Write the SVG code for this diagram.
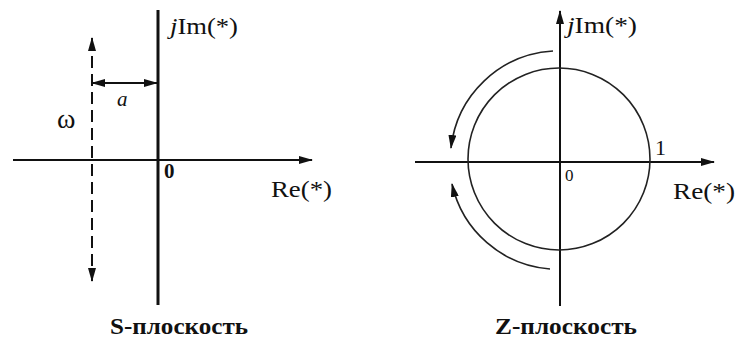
<svg xmlns="http://www.w3.org/2000/svg" width="735" height="339" viewBox="0 0 735 339">
<style>
.ax{stroke:#111;fill:none;stroke-width:2}
.th{stroke-width:3}
.dash{stroke:#111;fill:none;stroke-width:2;stroke-dasharray:12 6}
.arc{stroke:#222;fill:none;stroke-width:1.6}
.t{font-family:"Liberation Serif",serif;fill:#111}
.lbl{font-family:"Liberation Serif",serif;fill:#111;font-weight:bold;font-size:23px}
</style>
<defs>
<marker id="ah" viewBox="0 0 14 8" refX="13" refY="4" markerWidth="14" markerHeight="8" markerUnits="userSpaceOnUse" orient="auto-start-reverse">
<path d="M0,0 L14,4 L0,8 Z" fill="#111"/>
</marker>
</defs>
<rect width="735" height="339" fill="#fff"/>
<g id="connectors">
<!-- S-plane -->
<line class="ax" x1="13" y1="160" x2="312" y2="160" marker-end="url(#ah)"/>
<line class="ax th" x1="158" y1="10" x2="158" y2="305"/>
<line class="dash" x1="92" y1="38" x2="92" y2="281" marker-start="url(#ah)" marker-end="url(#ah)"/>
<line class="ax" x1="92" y1="83" x2="157" y2="83" stroke-width="1.6" marker-start="url(#ah)" marker-end="url(#ah)"/>
<!-- Z-plane -->
<line class="ax" x1="415" y1="162" x2="714" y2="162" marker-end="url(#ah)"/>
<line class="ax" x1="560" y1="306" x2="560" y2="11" marker-end="url(#ah)"/>
<path class="arc" d="M553,51 A109,109 0 0 0 451,148" marker-end="url(#ah)"/>
<path class="arc" d="M550,269 A109,109 0 0 1 452,184" marker-end="url(#ah)"/>
</g>
<g id="unit-circle">
<circle cx="559" cy="159" r="91" class="arc"/>
</g>
<g id="s-plane-labels">
<text class="t" x="170" y="34" font-size="23" textLength="68" lengthAdjust="spacingAndGlyphs"><tspan font-style="italic">j</tspan>Im(*)</text>
<text class="t" x="164" y="178" font-size="21" font-weight="bold">0</text>
<text class="t" x="271" y="197" font-size="24" textLength="61" lengthAdjust="spacingAndGlyphs">Re(*)</text>
<text class="t" x="57" y="128" font-size="28">ω</text>
<text class="t" x="117" y="106" font-size="21" font-style="italic">a</text>
<text class="lbl" x="179" y="334" text-anchor="middle" textLength="138" lengthAdjust="spacingAndGlyphs">S-плоскость</text>
</g>
<g id="z-plane-labels">
<text class="t" x="567" y="33" font-size="23" textLength="70" lengthAdjust="spacingAndGlyphs"><tspan font-style="italic">j</tspan>Im(*)</text>
<text class="t" x="655" y="155" font-size="22">1</text>
<text class="t" x="565" y="181" font-size="17">0</text>
<text class="t" x="673" y="199" font-size="24" textLength="62" lengthAdjust="spacingAndGlyphs">Re(*)</text>
<text class="lbl" x="566" y="334" text-anchor="middle" textLength="142" lengthAdjust="spacingAndGlyphs">Z-плоскость</text>
</g>
</svg>
